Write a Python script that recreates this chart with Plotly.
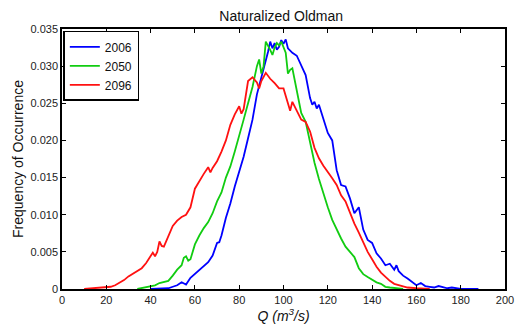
import plotly.graph_objects as go

# ---- data ----
x_2006 = [40, 44, 48, 50, 52, 54, 56, 58, 60, 62, 64, 66, 68, 70, 71, 72, 74, 76, 78, 80, 82, 84, 86, 88, 90, 92, 93,
          94, 95, 96, 97, 98, 99, 100, 101, 102, 104, 106, 108, 110, 112, 113, 114, 115, 116, 118, 120, 122, 124, 126,
          128, 130, 132, 134, 136, 138, 140, 142, 144, 146, 148, 150, 151, 152, 154, 156, 158, 160, 162, 164, 166, 168,
          170, 172, 174, 176, 178, 180, 184, 188]
y_2006 = [0, 0, 0.0001, 0.0003, 0.0005, 0.0009, 0.0006, 0.0015, 0.002, 0.0026, 0.003, 0.0036, 0.0045, 0.0062, 0.0063,
          0.0072, 0.0096, 0.0115, 0.0138, 0.0158, 0.0178, 0.0203, 0.0228, 0.0262, 0.0285, 0.0305, 0.0319, 0.0333,
          0.0324, 0.0331, 0.0322, 0.0326, 0.0335, 0.0330, 0.0336, 0.0324, 0.0318, 0.0314, 0.0302, 0.0288, 0.0257,
          0.0248, 0.0252, 0.0243, 0.0248, 0.0228, 0.021, 0.02, 0.0160, 0.0140, 0.0138, 0.0122, 0.0102, 0.0110, 0.0080,
          0.0066, 0.0062, 0.0048, 0.0041, 0.0032, 0.0034, 0.0026, 0.0032, 0.0024, 0.0018, 0.0014, 0.0010, 0.0005,
          0.0008, 0.0004, 0.0003, 0.0002, 0.0004, 0.0002, 0.0001, 0.0002, 0.0001, 0.0, 0, 0]

x_2050 = [34, 38, 40, 42, 44, 46, 48, 50, 52, 54, 55, 56, 57, 58, 59, 60, 62, 64, 66, 68, 70, 72, 74, 76, 78, 80, 82,
          84, 86, 88, 89, 90, 91, 92, 93, 94, 95, 96, 97, 98, 99, 100, 101, 102, 103, 104, 106, 108, 110, 112, 114,
          116, 118, 120, 122, 124, 126, 128, 130, 132, 134, 136, 138, 140, 142, 144, 146, 148, 150, 154]
y_2050 = [0, 0.0002, 0.0003, 0.0005, 0.0008, 0.0009, 0.0011, 0.0018, 0.0026, 0.0032, 0.0042, 0.0044, 0.0038, 0.0040,
          0.0052, 0.0060, 0.0072, 0.0082, 0.0090, 0.0102, 0.0118, 0.0130, 0.0150, 0.0165, 0.0185, 0.0205, 0.0228,
          0.0250, 0.0272, 0.0300, 0.0309, 0.0290, 0.0300, 0.0333, 0.0328, 0.0322, 0.0315, 0.0325, 0.0331, 0.0328,
          0.0333, 0.0326, 0.0318, 0.0290, 0.0295, 0.0297, 0.0265, 0.0237, 0.0225, 0.0195, 0.0170, 0.0148, 0.0128,
          0.0110, 0.0093, 0.0080, 0.0068, 0.0057, 0.0050, 0.0043, 0.0028, 0.0020, 0.0016, 0.0012, 0.0009, 0.0007,
          0.0003, 0.0002, 0.0001, 0]

x_2096 = [10, 14, 18, 20, 22, 24, 26, 28, 30, 32, 34, 36, 38, 40, 41, 42, 43, 44, 45, 46, 48, 50, 52, 54, 56, 58, 60,
          62, 64, 66, 67, 68, 70, 72, 74, 76, 78, 80, 81, 82, 84, 86, 88, 89, 90, 92, 94, 96, 98, 100, 102, 103, 104,
          106, 108, 110, 112, 114, 116, 118, 120, 122, 124, 126, 128, 130, 132, 134, 136, 138, 140, 142, 144, 146,
          148, 150, 152, 154, 156, 160, 166]
y_2096 = [0, 0.0001, 0.0002, 0.0002, 0.0003, 0.0005, 0.0008, 0.0012, 0.0017, 0.0021, 0.0025, 0.0028, 0.0035, 0.0045,
          0.0049, 0.0044, 0.0050, 0.0064, 0.0058, 0.0057, 0.0070, 0.0085, 0.0092, 0.0097, 0.0100, 0.0110, 0.0135,
          0.0146, 0.0155, 0.0164, 0.0157, 0.0163, 0.0172, 0.0185, 0.0200, 0.0221, 0.0235, 0.0246, 0.0236, 0.0242,
          0.0280, 0.0285, 0.0278, 0.0270, 0.0280, 0.0291, 0.0283, 0.0277, 0.0270, 0.0270, 0.0250, 0.0240, 0.0252,
          0.0240, 0.0228, 0.0225, 0.0212, 0.0190, 0.0176, 0.0166, 0.0158, 0.0149, 0.0140, 0.0126, 0.0118, 0.0102,
          0.0088, 0.0076, 0.0062, 0.0050, 0.0040, 0.0030, 0.0022, 0.0016, 0.0011, 0.0007, 0.0005, 0.0003, 0.0002,
          0.0001, 0]

x_ticks = [0, 20, 40, 60, 80, 100, 120, 140, 160, 180, 200]
y_ticks = [0, 0.005, 0.010, 0.015, 0.020, 0.025, 0.030, 0.035]
y_tick_text = ["0", "0.005", "0.010", "0.015", "0.020", "0.025", "0.030", "0.035"]

series = [("2006", x_2006, y_2006, "#0000ff"),
          ("2050", x_2050, y_2050, "#11cc11"),
          ("2096", x_2096, y_2096, "#ff1111")]

fig = go.Figure()
for name, xs, ys, col in series:
    fig.add_trace(go.Scatter(x=xs, y=ys, mode="lines", name=name,
                             line=dict(color=col, width=1.8)))

font_family = "Liberation Sans, Arial, sans-serif"
axis_common = dict(showline=True, linecolor="black", linewidth=1.6, mirror="ticks",
                   ticks="inside", ticklen=4, tickcolor="black", tickwidth=1.2,
                   showgrid=False, zeroline=False, automargin=False,
                   tickfont=dict(family=font_family, size=11, color="#222222"))

fig.update_layout(
    width=515, height=328,
    margin=dict(l=62, r=10, t=29, b=39),
    paper_bgcolor="white", plot_bgcolor="white",
    font=dict(family=font_family, color="black"),
    title=dict(text="Naturalized Oldman", x=0.546, xanchor="center", y=0.951, yanchor="middle",
               font=dict(family=font_family, size=14, color="#111111")),
    xaxis=dict(range=[0, 200], tickvals=x_ticks, ticktext=[str(v) for v in x_ticks],
               title=dict(text="<i>Q</i> <i>(m<sup>3</sup>/s)</i>", standoff=2,
                          font=dict(family=font_family, size=14, color="#111111")),
               **axis_common),
    yaxis=dict(range=[0, 0.035], tickvals=y_ticks, ticktext=y_tick_text,
               title=dict(text="Frequency of Occurrence", standoff=4,
                          font=dict(family=font_family, size=14, color="#111111")),
               **axis_common),
    legend=dict(x=0.003, y=0.993, xanchor="left", yanchor="top",
                bgcolor="white", bordercolor="black", borderwidth=1.5,
                font=dict(family=font_family, size=12, color="#111111"),
                tracegroupgap=0, itemwidth=30),
    showlegend=True,
)

fig.write_html("out.html")
